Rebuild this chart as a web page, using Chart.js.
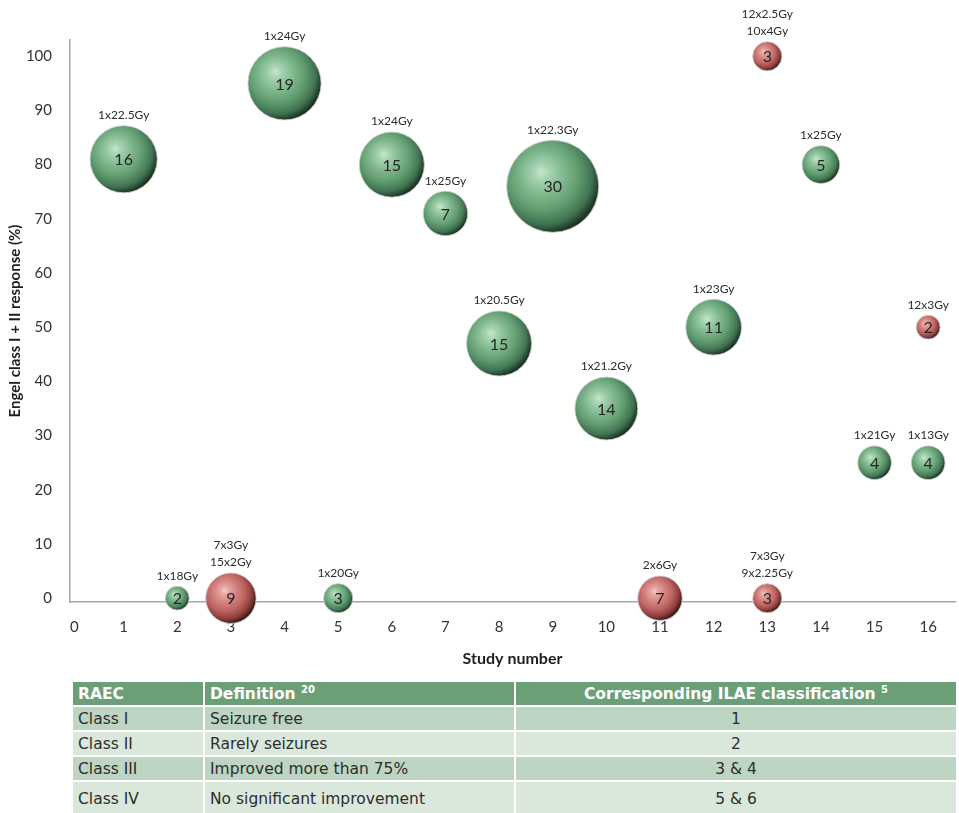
<!DOCTYPE html>
<html>
<head>
<meta charset="utf-8">
<script src="https://cdn.jsdelivr.net/npm/chart.js@4.4.1/dist/chart.umd.min.js"></script>
<style>
  html, body { margin: 0; padding: 0; background: #ffffff; }
  #page { position: relative; width: 959px; height: 813px; overflow: hidden; }
  #bubbles { position: absolute; left: 0; top: 0; }
  #raec {
    position: absolute; left: 71px; top: 680px; width: 887px;
    border-collapse: collapse; table-layout: fixed;
    font-family: "DejaVu Sans", Verdana, sans-serif; font-size: 15.5px; color: #2e2e2e;
  }
  #raec th, #raec td { border: 2px solid #ffffff; padding: 0 0 0 5px; text-align: left; white-space: nowrap; }
  #raec th { background: #6b9f78; color: #ffffff; font-weight: bold; height: 23px; }
  #raec td { height: 23px; }
  #raec tbody tr:nth-child(odd) td { background: #bdd5c2; }
  #raec tbody tr:nth-child(even) td { background: #dae8dc; }
  #raec tbody tr:last-child td { height: 33px; }
  #raec .mid { text-align: center; padding-left: 0; }
  #raec sup { font-size: 10px; vertical-align: 6px; line-height: 0; }
</style>
</head>
<body>
<div id="page">
  <canvas id="bubbles" width="959" height="672"></canvas>
  <table id="raec">
    <colgroup><col style="width:132px"><col style="width:311px"><col></colgroup>
    <thead><tr id="raecHead"></tr></thead>
    <tbody id="raecBody"></tbody>
  </table>
</div>
<script>
// Study results: study number, Engel I+II response (%), patients, dose scheme
const studyNumbers = [1, 2, 3, 4, 5, 6, 7, 8, 9, 10, 11, 12, 13, 13, 14, 15, 16, 16];
const responses    = [81, 0, 0, 95, 0, 80, 71, 47, 76, 35, 0, 50, 100, 0, 80, 25, 25, 50];
const patients     = [16, 2, 9, 19, 3, 15, 7, 15, 30, 14, 7, 11, 3, 3, 5, 4, 4, 2];
const doseSchemes  = [
  ["1x22.5Gy"], ["1x18Gy"], ["7x3Gy", "15x2Gy"], ["1x24Gy"], ["1x20Gy"], ["1x24Gy"],
  ["1x25Gy"], ["1x20.5Gy"], ["1x22.3Gy"], ["1x21.2Gy"], ["2x6Gy"], ["1x23Gy"],
  ["12x2.5Gy", "10x4Gy"], ["7x3Gy", "9x2.25Gy"], ["1x25Gy"], ["1x21Gy"], ["1x13Gy"], ["12x3Gy"]
];
const fractionated = [false, false, true, false, false, false, false, false, false, false,
                      true, false, true, true, false, false, false, true];

// Axis tick values
const xTickValues = [0, 1, 2, 3, 4, 5, 6, 7, 8, 9, 10, 11, 12, 13, 14, 15, 16];
const yTickValues = [0, 10, 20, 30, 40, 50, 60, 70, 80, 90, 100];

// Classification table
const tableHeader  = ["RAEC", "Definition", "Corresponding ILAE classification"];
const headerRefs   = ["", "20", "5"];
const raecClasses  = ["Class I", "Class II", "Class III", "Class IV"];
const definitions  = ["Seizure free", "Rarely seizures", "Improved more than 75%", "No significant improvement"];
const ilaeClasses  = ["1", "2", "3 & 4", "5 & 6"];

// Bubble area proportional to the number of patients
function bubbleRadius(n) { return 8.4 * Math.sqrt(n); }

function pointsFor(flag) {
  const pts = [];
  studyNumbers.forEach((s, i) => {
    if (fractionated[i] === flag) {
      pts.push({ x: s, y: responses[i], n: patients[i], dose: doseSchemes[i] });
    }
  });
  return pts;
}

const palettes = {
  green: { solid: '#5f9a6e', stops: ['#c6e8ce', '#a6d3b1', '#80b88e', '#629d71', '#417452', '#1b3423'] },
  red:   { solid: '#bf6361', stops: ['#f6c9c7', '#e7a5a3', '#d2827f', '#bf6361', '#8b3d3c', '#3e1717'] }
};

// Shaded sphere fill, placed with the chart's own scales
function sphereFill(pal) {
  return function (ctx) {
    const chart = ctx.chart;
    const raw = ctx.raw;
    if (!raw || !chart.chartArea) return pal.solid;
    const cx = chart.scales.x.getPixelForValue(raw.x);
    const cy = chart.scales.y.getPixelForValue(raw.y);
    const r = bubbleRadius(raw.n);
    const g = chart.ctx.createRadialGradient(cx - 0.25 * r, cy - 0.32 * r, 0,
                                             cx - 0.18 * r, cy - 0.2 * r, 1.22 * r);
    const pos = [0, 0.14, 0.38, 0.62, 0.85, 1];
    pos.forEach((p, k) => g.addColorStop(p, pal.stops[k]));
    return g;
  };
}

function makeDataset(label, flag, pal) {
  return {
    label: label,
    data: pointsFor(flag),
    backgroundColor: sphereFill(pal),
    borderColor: 'rgba(205,205,205,0.85)',
    borderWidth: 1,
    radius: (ctx) => ctx.raw ? bubbleRadius(ctx.raw.n) : 3,
    clip: false
  };
}

// Patient count inside each bubble, dose scheme above it
const bubbleText = {
  id: 'bubbleText',
  afterDatasetsDraw(chart) {
    const c = chart.ctx;
    chart.data.datasets.forEach((ds, di) => {
      const meta = chart.getDatasetMeta(di);
      meta.data.forEach((el, i) => {
        const raw = ds.data[i];
        const r = el.options.radius;
        c.save();
        c.textAlign = 'center';
        c.textBaseline = 'middle';
        c.fillStyle = '#262626';
        c.font = '16px Lato';
        c.fillText(String(raw.n), el.x, el.y + 1);
        c.font = '12px Lato';
        c.fillStyle = '#2c2c2c';
        const lines = raw.dose;
        lines.forEach((t, k) => {
          c.fillText(t, el.x, el.y - r - 10.5 - (lines.length - 1 - k) * 17);
        });
        c.restore();
      });
    });
  }
};

// Keep the plot area fixed: no extra room reserved for edge tick labels
function noEdgePadding(scale) {
  scale.paddingLeft = 0;
  scale.paddingRight = 0;
  scale.paddingTop = 0;
  scale.paddingBottom = 0;
}

new Chart(document.getElementById('bubbles'), {
  type: 'bubble',
  data: {
    datasets: [
      makeDataset('Single fraction', false, palettes.green),
      makeDataset('Fractionated', true, palettes.red)
    ]
  },
  options: {
    responsive: false,
    animation: false,
    events: [],
    layout: { autoPadding: false, padding: { top: 40, right: 4, left: 0, bottom: 0 } },
    plugins: { legend: { display: false }, tooltip: { enabled: false } },
    scales: {
      x: {
        type: 'linear', min: 0, max: 16.5,
        afterFit(scale) { scale.height = 70; noEdgePadding(scale); },
        afterBuildTicks(scale) { scale.ticks = xTickValues.map(v => ({ value: v })).concat([{ value: 16.5 }]); },
        grid: { display: false, drawTicks: false },
        border: { display: true, color: '#a6a6a6', width: 1.5 },
        ticks: {
          autoSkip: false, maxRotation: 0, padding: 16, align: 'inner',
          color: '#333333', font: { family: 'Lato', size: 15 },
          callback: (v) => xTickValues.includes(v) ? String(v) : ''
        },
        title: {
          display: true, text: 'Study number', color: '#1e1e1e',
          font: { family: 'Lato', size: 16, weight: 'bold' },
          padding: { top: 0, bottom: 4 }
        }
      },
      y: {
        type: 'linear', min: -0.7, max: 103,
        afterFit(scale) { scale.width = 70; noEdgePadding(scale); },
        afterBuildTicks(scale) { scale.ticks = yTickValues.map(v => ({ value: v })); },
        grid: { display: false, drawTicks: false },
        border: { display: true, color: '#a6a6a6', width: 1.5 },
        ticks: {
          padding: 18, color: '#333333', font: { family: 'Lato', size: 15 },
          callback: (v) => String(v)
        },
        title: {
          display: true, text: 'Engel class I + II response (%)', color: '#1e1e1e',
          font: { family: 'Lato', size: 15, weight: 'bold' },
          padding: { top: 6, bottom: 0 }
        }
      }
    }
  },
  plugins: [bubbleText]
});

// Classification table
const head = document.getElementById('raecHead');
tableHeader.forEach((t, i) => {
  const th = document.createElement('th');
  if (i === 2) th.className = 'mid';
  th.textContent = t;
  if (headerRefs[i]) {
    const sup = document.createElement('sup');
    sup.textContent = headerRefs[i];
    th.appendChild(document.createTextNode(' '));
    th.appendChild(sup);
  }
  head.appendChild(th);
});
const body = document.getElementById('raecBody');
raecClasses.forEach((cls, i) => {
  const tr = document.createElement('tr');
  [cls, definitions[i], ilaeClasses[i]].forEach((t, k) => {
    const td = document.createElement('td');
    if (k === 2) td.className = 'mid';
    td.textContent = t;
    tr.appendChild(td);
  });
  body.appendChild(tr);
});
</script>
</body>
</html>
